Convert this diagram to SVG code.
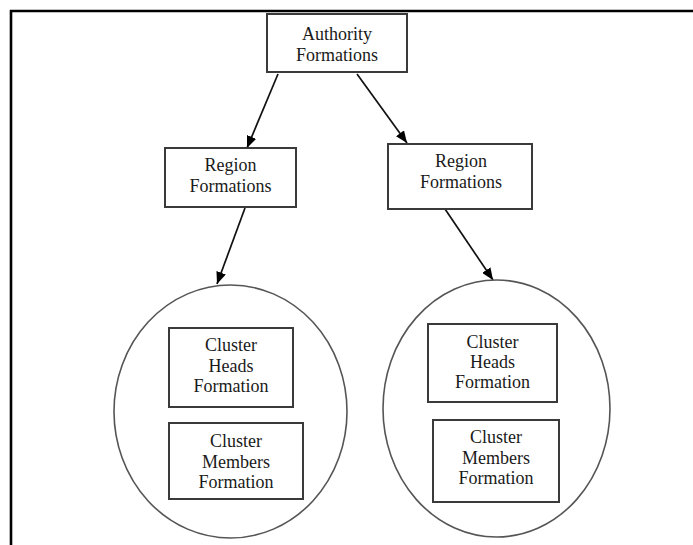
<svg xmlns="http://www.w3.org/2000/svg" width="693" height="545" viewBox="0 0 693 545">
<style>
.box{fill:#fff;stroke:#3a3a3a;stroke-width:2}
.circ{fill:#fff;stroke:#555;stroke-width:1.6}
text{font-family:'Liberation Serif','DejaVu Serif','Times New Roman',serif;font-size:18px;fill:#1a1a1a;text-anchor:middle}
.edge{stroke:#111;stroke-width:1.7;fill:none;marker-end:url(#ah)}
.frame{stroke:#000;stroke-width:2.6;fill:none}
</style>
<defs>
<marker id="ah" markerUnits="userSpaceOnUse" markerWidth="12" markerHeight="10" refX="12" refY="5" orient="auto">
<path d="M0,0 L12,5 L0,10 z" fill="#000"/>
</marker>
</defs>
<rect width="693" height="545" fill="#fff"/>
<path class="frame" d="M11,545 V11 H693"/>
<g id="connectors">
<line class="edge" x1="278" y1="74" x2="247" y2="148"/>
<line class="edge" x1="357" y1="74" x2="407" y2="143"/>
<line class="edge" x1="245" y1="208" x2="217" y2="284"/>
<line class="edge" x1="445" y1="209" x2="493" y2="280"/>
</g>
<g id="authority" font-family="Liberation Serif, serif">
<rect class="box" x="267" y="14" width="140" height="58"/>
<text x="337" y="40">Authority</text>
<text x="337" y="61">Formations</text>
</g>
<g id="region-left">
<rect class="box" x="165" y="148" width="131" height="59"/>
<text x="230.5" y="171">Region</text>
<text x="230.5" y="192">Formations</text>
</g>
<g id="region-right">
<rect class="box" x="388" y="144" width="144" height="65"/>
<text x="461" y="167">Region</text>
<text x="461" y="188">Formations</text>
</g>
<g id="cluster-left">
<ellipse class="circ" cx="230.5" cy="411.5" rx="116.5" ry="126.5"/>
<g id="heads-left">
<rect class="box" x="169" y="328" width="124" height="79"/>
<text x="231" y="351">Cluster</text>
<text x="231" y="372">Heads</text>
<text x="231" y="392">Formation</text>
</g>
<g id="members-left">
<rect class="box" x="169" y="423" width="134" height="76"/>
<text x="236" y="447">Cluster</text>
<text x="236" y="468">Members</text>
<text x="236" y="488">Formation</text>
</g>
</g>
<g id="cluster-right">
<ellipse class="circ" cx="496.5" cy="408.5" rx="113.5" ry="128.5"/>
<g id="heads-right">
<rect class="box" x="428" y="324" width="129" height="78"/>
<text x="492.5" y="348">Cluster</text>
<text x="492.5" y="368">Heads</text>
<text x="492.5" y="388">Formation</text>
</g>
<g id="members-right">
<rect class="box" x="433" y="420" width="126" height="82"/>
<text x="496" y="443">Cluster</text>
<text x="496" y="464">Members</text>
<text x="496" y="484">Formation</text>
</g>
</g>
</svg>
